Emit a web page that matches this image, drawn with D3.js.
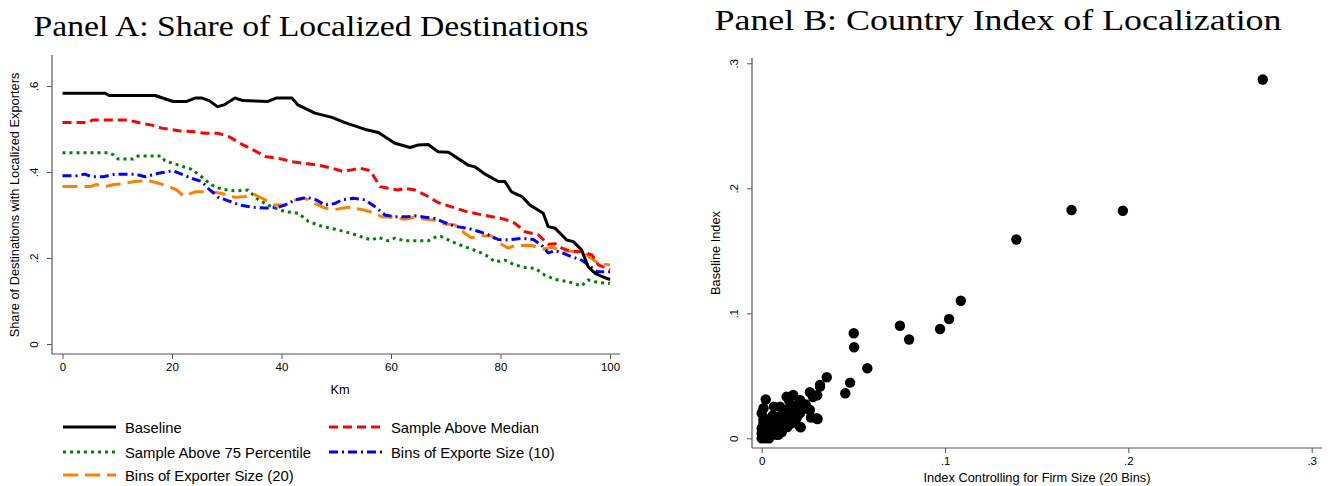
<!DOCTYPE html>
<html>
<head>
<meta charset="utf-8">
<script src="https://cdn.jsdelivr.net/npm/d3@7"></script>
<style>
  html, body { margin: 0; padding: 0; background: #fff; }
  svg { display: block; }
</style>
</head>
<body>
<svg id="chart" width="1331" height="486"></svg>
<script>
// ---------------- DATA ----------------
// Panel A: [km, share]
const baseline = [[0,0.583],[7.8,0.583],[8.5,0.578],[16.9,0.578],[20.2,0.564],[22.7,0.564],[24.2,0.572],[25.5,0.572],[26.8,0.566],[28.3,0.552],[29.5,0.556],[31.5,0.572],[33,0.566],[37.5,0.564],[39,0.572],[41.9,0.572],[43,0.556],[46.1,0.537],[49.2,0.527],[51.6,0.515],[55.3,0.499],[57.7,0.492],[60.7,0.467],[63.5,0.457],[65,0.463],[66.8,0.464],[68.6,0.447],[70.5,0.446],[74.1,0.416],[75.3,0.412],[77.2,0.395],[79.6,0.378],[80.8,0.378],[82,0.354],[83.9,0.343],[85.4,0.323],[87.8,0.304],[88.7,0.273],[90,0.269],[92.1,0.242],[93.3,0.238],[94.8,0.219],[96,0.18],[97.3,0.164],[98.5,0.157],[100,0.150]];
const aboveMedian = [[0,0.515],[4.7,0.515],[5.5,0.521],[7.8,0.521],[12,0.521],[13.8,0.515],[16.3,0.509],[18.1,0.502],[21.2,0.496],[23.6,0.494],[26,0.49],[28.5,0.49],[30.6,0.481],[32.7,0.465],[35.2,0.449],[37,0.436],[39.4,0.432],[41.9,0.424],[44.3,0.42],[46.7,0.416],[49.2,0.409],[51.3,0.401],[52.8,0.405],[54.3,0.409],[56.2,0.403],[57.1,0.385],[58,0.366],[59.5,0.362],[61.3,0.358],[62.6,0.362],[64.4,0.358],[66.8,0.343],[68.6,0.329],[71.1,0.319],[73.5,0.309],[76,0.302],[78.4,0.296],[80.8,0.29],[82.6,0.281],[84.5,0.261],[86.9,0.254],[88.7,0.232],[90,0.233],[91.2,0.223],[93,0.215],[94.8,0.215],[96.7,0.207],[97.9,0.184],[100,0.172]];
const above75 = [[0,0.445],[8.4,0.445],[9.3,0.44],[10.2,0.43],[12.9,0.43],[13.8,0.437],[18.1,0.437],[18.7,0.426],[21.2,0.416],[23.6,0.406],[25.4,0.389],[27.2,0.37],[29.1,0.36],[31.5,0.356],[33.9,0.358],[35.8,0.335],[38.2,0.319],[40.6,0.308],[43.1,0.304],[44.9,0.285],[47.3,0.274],[49.8,0.267],[52.8,0.257],[55.3,0.246],[56.5,0.242],[57.7,0.248],[59.5,0.24],[60.7,0.246],[62.6,0.24],[66.8,0.24],[68.3,0.25],[69.2,0.25],[71.1,0.238],[73.5,0.226],[76,0.215],[77.8,0.203],[79,0.191],[80.8,0.195],[82.6,0.184],[84.5,0.178],[86.3,0.176],[88.1,0.16],[90,0.15],[92.4,0.145],[94.8,0.135],[96,0.149],[97.9,0.143],[100,0.141]];
const bins10 = [[0,0.391],[2.5,0.391],[4.1,0.395],[5.3,0.389],[7.5,0.389],[9.6,0.395],[13.2,0.395],[15.1,0.389],[17.5,0.397],[20.2,0.403],[22.1,0.393],[23.6,0.385],[25.4,0.378],[26.6,0.362],[28.5,0.341],[30.3,0.333],[32.1,0.324],[34.6,0.318],[37,0.316],[39.4,0.318],[40.6,0.323],[42.5,0.335],[44.6,0.341],[46.4,0.335],[47.9,0.323],[49.8,0.327],[51,0.335],[53.1,0.339],[55.3,0.335],[57.1,0.319],[58.9,0.30],[60.7,0.296],[63,0.296],[64.4,0.298],[66.2,0.295],[68,0.292],[70.5,0.279],[72,0.273],[74.1,0.269],[77.2,0.257],[79.6,0.243],[81.4,0.242],[83.9,0.246],[86,0.243],[87.5,0.23],[88.7,0.212],[90,0.217],[91.5,0.211],[93,0.203],[94.8,0.195],[96,0.184],[97.6,0.168],[100,0.168]];
const bins20 = [[0,0.366],[5,0.366],[6.2,0.371],[7.8,0.366],[9.3,0.371],[10.8,0.372],[13.2,0.378],[15.7,0.38],[17.5,0.374],[19.3,0.367],[20.9,0.358],[22.1,0.344],[23,0.348],[24.2,0.354],[27.2,0.354],[29.1,0.35],[31.5,0.341],[33.3,0.343],[35.2,0.347],[37,0.335],[38.8,0.323],[40.6,0.323],[42.5,0.335],[44.3,0.339],[46.1,0.327],[47.9,0.316],[49.8,0.313],[52.2,0.318],[54.6,0.313],[57.1,0.304],[58.3,0.296],[60.1,0.295],[62.6,0.29],[64.4,0.295],[66.2,0.29],[68,0.288],[69.9,0.279],[71.7,0.277],[73.5,0.257],[74.7,0.247],[76.6,0.252],[78.4,0.251],[79.9,0.234],[81.4,0.223],[82.6,0.229],[85.7,0.229],[87.8,0.221],[89.4,0.225],[91.2,0.217],[93.6,0.215],[95.4,0.211],[97,0.195],[98.2,0.186],[100,0.184]];

const seriesNames = ["Baseline","Sample Above Median","Sample Above 75 Percentile","Bins of Exporte Size (10)","Bins of Exporter Size (20)"];
const xTicksA = [0,20,40,60,80,100];
const yTicksA = [0,0.2,0.4,0.6];
const yTickLabelsA = ["0",".2",".4",".6"];

// Panel B: [index controlling for firm size, baseline index]
const countryIndex = [[0.2733,0.287],[0.169,0.1826],[0.197,0.182],[0.1389,0.159],[0.1086,0.110],[0.1022,0.0954],[0.0973,0.0874],[0.0804,0.079],[0.0754,0.090],[0.0502,0.084],[0.0504,0.0728],[0.0576,0.056],[0.0482,0.0445],[0.0456,0.036],[0.0355,0.0488],[0.0318,0.0413],[0.0303,0.0344],[0.0263,0.0368],[0.0305,0.0154],[0.0269,0.0165],[0.0213,0.0088],[0.0254,0.0232],[0.0209,0.0306],[0.0172,0.0346],[0.0136,0.0333],[0.0172,0.0253],[0.0209,0.02],[0.0136,0.0226],[0.01,0.0253],[0.0118,0.0173],[0.0164,0.012],[0.0067,0.0253],[0.0022,0.031],[0.0,0.02],[0.0082,0.0173],[0.0063,0.012],[0.0027,0.0093],[0.0,0.004],[0.0,0.0],[0.002,0.0],[0.0045,0.0013],[0.009,0.0027],[0.0055,0.0067],[0.0098,0.008],[0.001,0.012],[0.002,0.006],[0.0318,0.0426],[0.0209,0.028],[0.0263,0.0226],[0.03,0.016],[0.0209,0.0093],[0.0118,0.0226],[0.0155,0.0173],[0.0082,0.012],[0.0045,0.0067],[0.0009,0.0013],[0.0082,0.0027],[0.0009,0.0147],[0.015,0.03],[0.018,0.022],[0.024,0.027],[0.012,0.015],[0.006,0.018],[0.003,0.015],[0.007,0.004],[0.004,0.0],[0.011,0.005],[0.014,0.009],[0.019,0.016],[0.022,0.024],[0.028,0.033],[0.016,0.027],[0.001,0.024],[0.0,0.008],[0.005,0.01]];
const xTicksB = [0,0.1,0.2,0.3];
const xTickLabelsB = ["0",".1",".2",".3"];
const yTicksB = [0,0.1,0.2,0.3];
const yTickLabelsB = ["0",".1",".2",".3"];

// ---------------- STYLE ----------------
const SANS = "'Liberation Sans', Arial, sans-serif";
const SERIF = "'Liberation Serif', 'DejaVu Serif', serif";
const AXIS_COLOR = "#555";
const TICK_FS = 11.5, TITLE_FS = 12.8, LEG_FS = 14.8;
const styles = [
  {color:"#000000", dash:null},
  {color:"#ff0000", dash:"9,5"},
  {color:"#008000", dash:"3,4"},
  {color:"#0000ff", dash:"9,4,2,4"},
  {color:"#ff8000", dash:"15,7"}
];
const seriesData = [baseline, aboveMedian, above75, bins10, bins20];

const svg = d3.select("#chart");

// ---------------- PANEL A ----------------
const xA = d3.scaleLinear().domain([0,100]).range([62.5,610]);
const yA = d3.scaleLinear().domain([0,0.6]).range([344,86]);
const aLeft = 52, aRight = 620, aTop = 55, aBottom = 354;

const gA = svg.append("g");

gA.append("line").attr("x1",aLeft).attr("x2",aLeft).attr("y1",aTop).attr("y2",aBottom)
  .attr("stroke",AXIS_COLOR).attr("stroke-width",1.2);
gA.append("line").attr("x1",aLeft).attr("x2",aRight).attr("y1",aBottom).attr("y2",aBottom)
  .attr("stroke",AXIS_COLOR).attr("stroke-width",1.2);

const xAxisA = gA.append("g").attr("transform",`translate(0,${aBottom})`)
  .call(d3.axisBottom(xA).tickValues(xTicksA).tickSize(5).tickSizeOuter(0).tickPadding(4));
xAxisA.select(".domain").remove();
xAxisA.selectAll("line").attr("stroke",AXIS_COLOR);
xAxisA.selectAll("text").attr("font-family",SANS).attr("font-size",TICK_FS).attr("fill","#000");

const yAxisA = gA.append("g").attr("transform",`translate(${aLeft},0)`)
  .call(d3.axisLeft(yA).tickValues(yTicksA).tickSize(5).tickSizeOuter(0)
    .tickFormat((d,i)=>yTickLabelsA[i]));
yAxisA.select(".domain").remove();
yAxisA.selectAll("line").attr("stroke",AXIS_COLOR);
yAxisA.selectAll("text").attr("font-family",SANS).attr("font-size",TICK_FS).attr("fill","#000")
  .attr("x",null).attr("dy",null)
  .attr("text-anchor","middle")
  .attr("transform","translate(-14,0) rotate(-90)");

gA.append("text").attr("x",340).attr("y",394).attr("text-anchor","middle")
  .attr("font-family",SANS).attr("font-size",TITLE_FS).text("Km");
gA.append("text").attr("transform",`translate(19,205) rotate(-90)`).attr("text-anchor","middle")
  .attr("font-family",SANS).attr("font-size",TITLE_FS).text("Share of Destinations with Localized Exporters");

const lineA = d3.line().x(d=>xA(d[0])).y(d=>yA(d[1]));
[2,4,3,1,0].forEach(i=>{
  gA.append("path").datum(seriesData[i])
    .attr("d",lineA).attr("fill","none")
    .attr("stroke",styles[i].color).attr("stroke-width",3)
    .attr("stroke-dasharray",styles[i].dash)
    .attr("stroke-linejoin","round");
});

// legend
const legendPos = [[63,427],[329,427],[63,452],[329,452],[63,475]];
seriesNames.forEach((name,i)=>{
  const [lx,ly] = legendPos[i];
  gA.append("line").attr("x1",lx).attr("x2",lx+53).attr("y1",ly).attr("y2",ly)
    .attr("stroke",styles[i].color).attr("stroke-width",3)
    .attr("stroke-dasharray",styles[i].dash);
  gA.append("text").attr("x",lx+62).attr("y",ly+5.5).attr("font-family",SANS)
    .attr("font-size",LEG_FS).text(name);
});

gA.append("text").attr("x",311).attr("y",36).attr("text-anchor","middle")
  .attr("font-family",SERIF).attr("font-size",30)
  .attr("textLength",555).attr("lengthAdjust","spacingAndGlyphs")
  .text("Panel A: Share of Localized Destinations");

// ---------------- PANEL B ----------------
const xB = d3.scaleLinear().domain([0,0.3]).range([761.7,1311.7]);
const yB = d3.scaleLinear().domain([0,0.3]).range([438.3,63.3]);
const bLeft = 752, bRight = 1322, bTop = 58, bBottom = 448;
const gB = svg.append("g");

gB.append("line").attr("x1",bLeft).attr("x2",bLeft).attr("y1",bTop).attr("y2",bBottom)
  .attr("stroke",AXIS_COLOR).attr("stroke-width",1.2);
gB.append("line").attr("x1",bLeft).attr("x2",bRight).attr("y1",bBottom).attr("y2",bBottom)
  .attr("stroke",AXIS_COLOR).attr("stroke-width",1.2);

const xAxisB = gB.append("g").attr("transform",`translate(0,${bBottom})`)
  .call(d3.axisBottom(xB).tickValues(xTicksB).tickSize(5).tickSizeOuter(0).tickPadding(4)
    .tickFormat((d,i)=>xTickLabelsB[i]));
xAxisB.select(".domain").remove();
xAxisB.selectAll("line").attr("stroke",AXIS_COLOR);
xAxisB.selectAll("text").attr("font-family",SANS).attr("font-size",TICK_FS).attr("fill","#000");

const yAxisB = gB.append("g").attr("transform",`translate(${bLeft},0)`)
  .call(d3.axisLeft(yB).tickValues(yTicksB).tickSize(5).tickSizeOuter(0)
    .tickFormat((d,i)=>yTickLabelsB[i]));
yAxisB.select(".domain").remove();
yAxisB.selectAll("line").attr("stroke",AXIS_COLOR);
yAxisB.selectAll("text").attr("font-family",SANS).attr("font-size",TICK_FS).attr("fill","#000")
  .attr("x",null).attr("dy",null)
  .attr("text-anchor","middle")
  .attr("transform","translate(-14,0) rotate(-90)");

gB.append("text").attr("transform",`translate(720,253) rotate(-90)`).attr("text-anchor","middle")
  .attr("font-family",SANS).attr("font-size",TITLE_FS).text("Baseline Index");
gB.append("text").attr("x",1037).attr("y",482).attr("text-anchor","middle")
  .attr("font-family",SANS).attr("font-size",TITLE_FS).text("Index Controlling for Firm Size (20 Bins)");

gB.selectAll("circle.pt").data(countryIndex).enter().append("circle")
  .attr("class","pt")
  .attr("cx",d=>xB(d[0])).attr("cy",d=>yB(d[1])).attr("r",5.2).attr("fill","#000");

gB.append("text").attr("x",998).attr("y",30).attr("text-anchor","middle")
  .attr("font-family",SERIF).attr("font-size",30)
  .attr("textLength",567).attr("lengthAdjust","spacingAndGlyphs")
  .text("Panel B: Country Index of Localization");
</script>
</body>
</html>
